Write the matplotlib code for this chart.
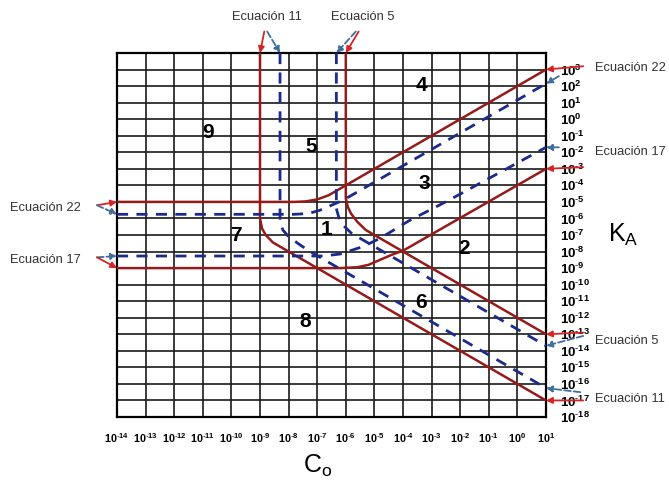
import matplotlib
matplotlib.use("Agg")
import matplotlib.pyplot as plt

plt.rcParams['font.family'] = ['Liberation Sans', 'DejaVu Sans']
plt.rcParams['mathtext.fontset'] = 'custom'
plt.rcParams['mathtext.rm'] = 'Liberation Sans'
plt.rcParams['mathtext.bf'] = 'Liberation Sans:bold'

# axis exponents (log10 C0, log10 KA)
x_exps = list(range(-14, 2))
y_exps = list(range(-18, 4))

# red curves (log10 units)
red11_x = [-9, -9, -8.93, -8.8, -8.55, -8.2, -7.9, 1]
red11_y = [4, -6.0, -6.6, -7.0, -7.45, -7.8, -8.1, -17]
red5_x = [-6, -6, -5.93, -5.82, -5.6, -5.3, -5.0, 1]
red5_y = [4, -4.8, -5.3, -5.7, -6.2, -6.7, -7.0, -13]
red22_x = [-14, -7.8, -7.4, -7.0, -6.6, -6.2, -5.8, 1]
red22_y = [-5, -5, -4.97, -4.85, -4.6, -4.2, -3.8, 3]
red17_x = [-14, -6.2, -5.6, -5.2, -4.8, -4.4, -4.0, 1]
red17_y = [-9, -9, -8.95, -8.8, -8.5, -8.2, -7.95, -3]

# blue dashed curves
blue11_x = [-8.3, -8.3, -8.2, -8.0, -7.6, -7.2, 1]
blue11_y = [4, -6.2, -6.7, -7.1, -7.6, -8.05, -16.25]
blue5_x = [-6.33, -6.33, -6.25, -6.1, -5.8, -5.4, 1]
blue5_y = [4, -5.4, -5.9, -6.4, -6.9, -7.3, -13.7]
blue22_x = [-14, -7.8, -7.3, -6.9, -6.5, -6.1, 1]
blue22_y = [-5.75, -5.75, -5.7, -5.5, -5.2, -4.9, 2.15]
blue17_x = [-14, -6.8, -6.2, -5.4, -4.8, -3.8, -2.4, 1]
blue17_y = [-8.27, -8.27, -8.15, -7.7, -7.2, -6.15, -4.9, -1.7]

# region numbers
region_names = ['9', '5', '4', '3', '7', '1', '2', '6', '8']
region_x = [-10.82, -7.22, -3.37, -3.27, -9.84, -6.69, -1.85, -3.37, -7.42]
region_y = [-0.8, -1.65, 2.05, -3.87, -7.06, -6.64, -7.84, -11.05, -12.25]

RED = '#961a1a'
NAVY = '#1c2a8c'
ARED = '#d62424'
ABLUE = '#3f6e9c'


def pow_label(v):
    if v < 0:
        return r'$\mathbf{10^{\text{-}%d}}$' % (-v)
    return r'$\mathbf{10^{%d}}$' % v


fig = plt.figure(figsize=(6.69, 4.8), dpi=100)
ax = fig.add_axes([117/669, 63/480, 429/669, 364/480])
ax.set_xlim(-14, 1)
ax.set_ylim(-18, 4)

for xv in x_exps:
    ax.axvline(xv, color='#1a1a1a', lw=1.2, zorder=1)
for yv in range(-18, 5):
    ax.axhline(yv, color='#1a1a1a', lw=1.2, zorder=1)
for s in ax.spines.values():
    s.set_linewidth(1.6)

for xs, ys in [(red11_x, red11_y), (red5_x, red5_y), (red22_x, red22_y), (red17_x, red17_y)]:
    ax.plot(xs, ys, color=RED, lw=1.8, zorder=3, solid_capstyle='butt')
for xs, ys in [(blue11_x, blue11_y), (blue5_x, blue5_y), (blue22_x, blue22_y), (blue17_x, blue17_y)]:
    ax.plot(xs, ys, color=NAVY, lw=2.0, ls=(0, (4, 3)), zorder=3)

for name, rx, ry in zip(region_names, region_x, region_y):
    ax.text(rx, ry, name, fontsize=15, fontweight='bold', ha='center', va='center', zorder=4)

ax.set_xticks(x_exps)
ax.set_xticklabels([pow_label(v) for v in x_exps], fontsize=7.8)
ax.yaxis.tick_right()
ax.set_yticks(y_exps)
ax.set_yticklabels([pow_label(v) for v in y_exps], fontsize=9.5, ha='left')
ax.tick_params(axis='x', length=0, pad=10)
ax.tick_params(axis='y', length=0, pad=10)

fig.text(608/669, 1 - 235/480, r'$\mathrm{K_A}$', fontsize=18, va='center', ha='left')
fig.text(303/669, 1 - 466/480, r'$\mathrm{C_o}$', fontsize=18, va='center', ha='left')


def arrow(tail, head, color, dashed=False):
    ax.annotate('', xy=head, xytext=tail, xycoords='data', textcoords='data',
                annotation_clip=False,
                arrowprops=dict(arrowstyle='-|>', color=color, lw=1.3,
                                ls='--' if dashed else '-', mutation_scale=9,
                                shrinkA=0, shrinkB=0))


eq_fs = 9.3
eq_col = '#333333'
# top labels
ax.text(-8.75, 6.2, 'Ecuación 11', fontsize=eq_fs, color=eq_col, ha='center', va='center', clip_on=False)
ax.text(-5.4, 6.2, 'Ecuación 5', fontsize=eq_fs, color=eq_col, ha='center', va='center', clip_on=False)
arrow((-8.85, 5.3), (-9, 4), ARED)
arrow((-8.75, 5.3), (-8.3, 4), ABLUE, True)
arrow((-5.55, 5.3), (-6.0, 4), ARED)
arrow((-5.65, 5.3), (-6.33, 4), ABLUE, True)
# right labels
ax.text(2.7, 3.1, 'Ecuación 22', fontsize=eq_fs, color=eq_col, ha='left', va='center', clip_on=False)
ax.text(2.7, -2.0, 'Ecuación 17', fontsize=eq_fs, color=eq_col, ha='left', va='center', clip_on=False)
ax.text(2.7, -13.4, 'Ecuación 5', fontsize=eq_fs, color=eq_col, ha='left', va='center', clip_on=False)
ax.text(2.7, -16.9, 'Ecuación 11', fontsize=eq_fs, color=eq_col, ha='left', va='center', clip_on=False)
arrow((2.3, 3.2), (1, 3), ARED)
arrow((1.45, 2.6), (1, 2.15), ABLUE, True)
arrow((1.45, -1.7), (1, -1.7), ABLUE, True)
arrow((2.3, -2.9), (1, -3), ARED)
arrow((2.3, -12.9), (1, -13), ARED)
arrow((2.3, -13.1), (1, -13.7), ABLUE, True)
arrow((2.2, -16.5), (1, -16.25), ABLUE, True)
arrow((2.3, -17.0), (1, -17), ARED)
# left labels
fig.text(10/669, 1 - 208/480, 'Ecuación 22', fontsize=eq_fs, color=eq_col, ha='left', va='center')
fig.text(10/669, 1 - 260/480, 'Ecuación 17', fontsize=eq_fs, color=eq_col, ha='left', va='center')
arrow((-14.7, -5.2), (-14, -5), ARED)
arrow((-14.7, -5.2), (-14, -5.75), ABLUE, True)
arrow((-14.7, -8.35), (-14, -8.27), ABLUE, True)
arrow((-14.7, -8.35), (-14, -9), ARED)

fig.savefig('out.png', dpi=100)
